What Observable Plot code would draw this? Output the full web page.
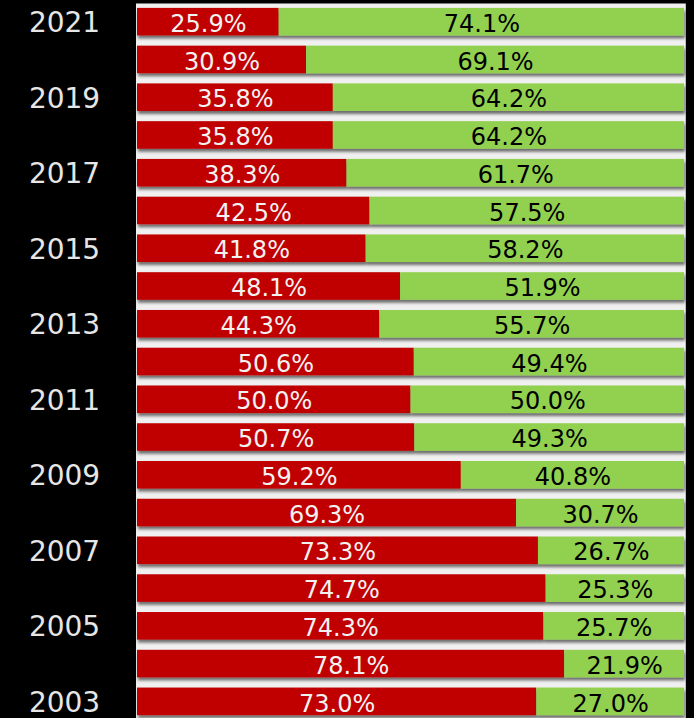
<!DOCTYPE html>
<html><head><meta charset="utf-8">
<script src="https://cdn.jsdelivr.net/npm/d3@7"></script>
<script src="https://cdn.jsdelivr.net/npm/@observablehq/plot@0.6"></script>
<style>html,body{margin:0;padding:0;background:#000;overflow:hidden;}</style>
</head><body><div id="chart"></div>
<script>
const years = [2021,2020,2019,2018,2017,2016,2015,2014,2013,2012,2011,2010,2009,2008,2007,2006,2005,2004,2003];
const redValues = [25.9,30.9,35.8,35.8,38.3,42.5,41.8,48.1,44.3,50.6,50.0,50.7,59.2,69.3,73.3,74.7,74.3,78.1,73.0];
const greenValues = [74.1,69.1,64.2,64.2,61.7,57.5,58.2,51.9,55.7,49.4,50.0,49.3,40.8,30.7,26.7,25.3,25.7,21.9,27.0];
const yearTicks = [2021,2019,2017,2015,2013,2011,2009,2007,2005,2003];
const seriesNames = ["A","B"];
const seriesColors = ["#c00000","#92d050"];
const textColors = ["#f2f2f2","#000000"];

const data = [];
years.forEach((y, i) => {
  data.push({year: y, series: seriesNames[0], value: redValues[i]});
  data.push({year: y, series: seriesNames[1], value: greenValues[i]});
});

const chart = Plot.plot({
  width: 694,
  height: 718,
  marginLeft: 137,
  marginRight: 10,
  marginTop: 6,
  marginBottom: 1,
  style: {background: "#000", fontFamily: "DejaVu Sans"},
  x: {domain: [0, 100], axis: null},
  y: {domain: years, paddingInner: 0.27, paddingOuter: 0.05, round: false, axis: null},
  color: {domain: seriesNames, range: seriesColors},
  marks: [
    Plot.frame({fill: "#f0f0f0", stroke: null, insetTop: -3, insetLeft: -1.5, insetRight: -1.3, insetBottom: -1}),
    Plot.barX(data, Plot.stackX({x: "value", y: "year", z: "series", fill: "series", order: null})),
    Plot.text(data, Plot.stackX({
      x: "value", y: "year", z: "series", order: null,
      text: d => d.value.toFixed(1) + "%",
      fill: d => textColors[seriesNames.indexOf(d.series)],
      fontSize: 24, dy: 2
    })),
    Plot.axisY(yearTicks, {
      tickSize: 0, tickPadding: 0, textAnchor: "middle", dx: -73, dy: 1,
      tickFormat: d => String(d), fontSize: 28, color: "#e6e6e6", label: null
    })
  ]
});

const ns = "http://www.w3.org/2000/svg";
const defs = document.createElementNS(ns, "defs");
defs.innerHTML = '<filter id="barshadow" x="-5%" y="-30%" width="110%" height="170%"><feDropShadow dx="1" dy="3" stdDeviation="1.6" flood-color="#000" flood-opacity="0.55"/></filter>';
chart.insertBefore(defs, chart.firstChild);
chart.querySelectorAll('g[aria-label="bar"]').forEach(g => g.setAttribute("filter", "url(#barshadow)"));
document.getElementById("chart").appendChild(chart);
</script>
</body></html>
